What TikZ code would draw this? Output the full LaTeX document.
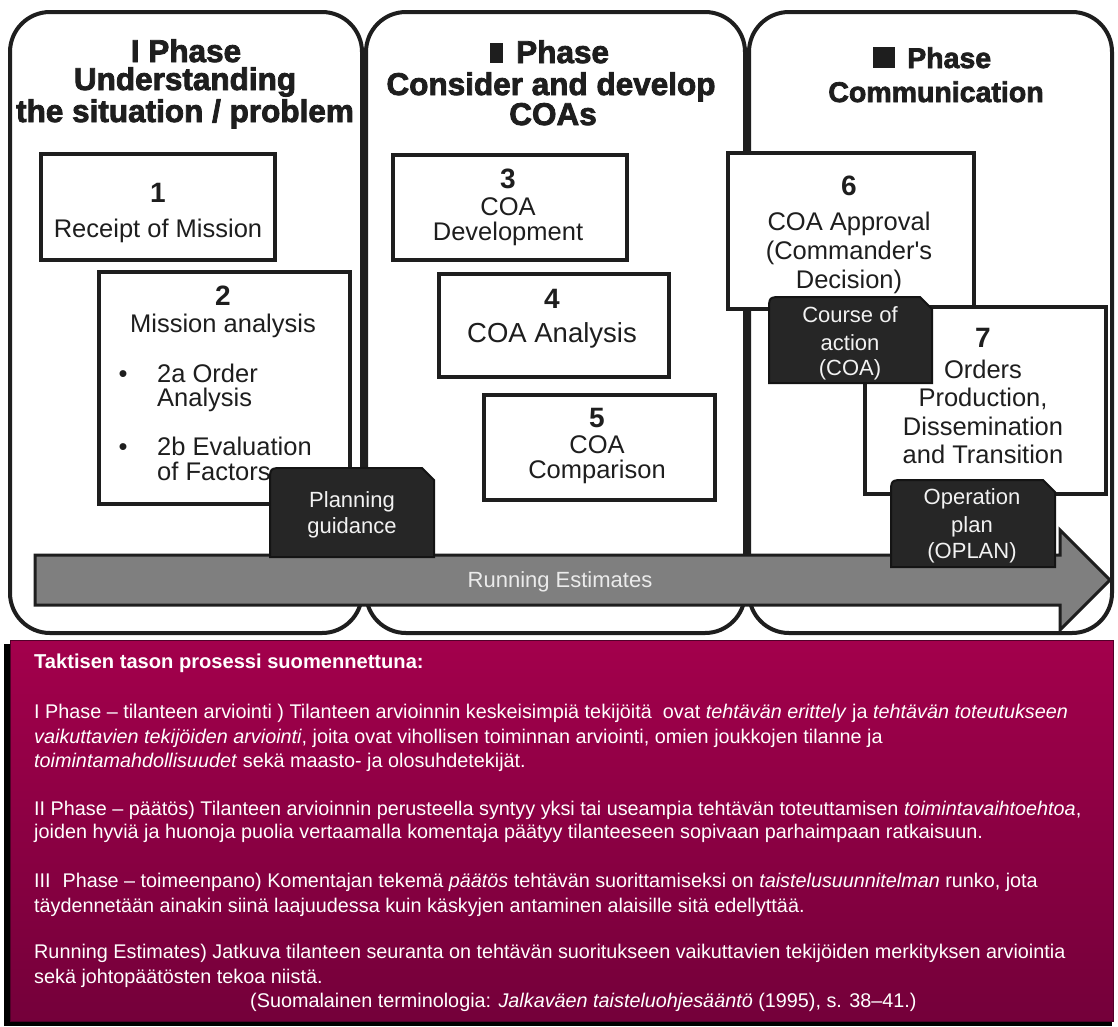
\documentclass[tikz,border=0pt]{standalone}
\usepackage{fontspec}
\setmainfont{Liberation Sans}
\newfontfamily\headfont[BoldFeatures={FakeBold=2.5}]{Liberation Sans}
\definecolor{ink}{HTML}{1E1E1E}
\definecolor{tagfill}{HTML}{262626}
\definecolor{tagedge}{HTML}{141414}
\definecolor{tagtext}{HTML}{F2F2F2}
\definecolor{arrowfill}{HTML}{7F7F7F}
\definecolor{plumtop}{HTML}{A3004C}
\definecolor{plumbot}{HTML}{74003A}
\begin{document}
\begin{tikzpicture}[x=1pt,y=-1pt,
  panel/.style={draw=ink,line width=4pt,rounded corners=40pt},
  stepbox/.style={draw=ink,line width=4pt,fill=white,inner sep=0,anchor=north west},
  tagshape/.style={fill=tagfill,draw=tagedge,line width=2pt},
  num/.style={font=\fontsize{28}{28}\selectfont\bfseries,anchor=base,text=ink,inner sep=0},
  lbl/.style={font=\fontsize{25.5}{25.5}\selectfont,anchor=base,text=ink,inner sep=0},
  lblw/.style={lbl,anchor=base west},
  head/.style={font=\headfont\bfseries\fontsize{31.5}{31.5}\selectfont,anchor=base,text=ink,inner sep=0},
  tagtxt/.style={font=\fontsize{22}{22}\selectfont,anchor=base,text=tagtext,inner sep=0},
  body/.style={font=\fontsize{19.8}{19.8}\selectfont,anchor=base west,text=white,inner sep=0},
]
\useasboundingbox (0,0) rectangle (1118,1026);
\fill[white] (0,0) rectangle (1118,1026);

% the three phase panels
\draw[panel] (10,12) rectangle (362,633);
\draw[panel] (366,12) rectangle (745,633);
\draw[panel] (749,12) rectangle (1112,633);

% phase headings
\node[head] (h1a) at (186,62) {I Phase};
\node[head] (h1b) at (185,90) {Understanding};
\node[head] (h1c) at (185,122) {the situation / problem};
\node[head,anchor=base west] (h2a) at (490,63) {\rule{13pt}{20pt}\hspace{13pt}Phase};
\node[head] (h2b) at (551,95) {Consider and develop};
\node[head] (h2c) at (553,125) {COAs};
\node[head,anchor=base west,font=\headfont\bfseries\fontsize{28.5}{28.5}\selectfont] (h3a) at (873,68) {\rule{22pt}{21pt}\hspace{12pt}Phase};
\node[head,font=\headfont\bfseries\fontsize{28.5}{28.5}\selectfont] (h3b) at (936,102) {Communication};

% process steps
\node[stepbox,minimum width=234pt,minimum height=106pt] (b1) at (39,152) {};
\node[num] (n1) at (158,202) {1};
\node[lbl] (t1) at (158,237) {Receipt of Mission};

\node[stepbox,minimum width=251pt,minimum height=232pt] (b2) at (97,270) {};
\node[num] (n2) at (223,305) {2};
\node[lbl] (t2) at (223,332) {Mission analysis};
\node[lbl] (d2a) at (123,382) {•};
\node[lblw] (t2a) at (157,382) {2a Order};
\node[lblw] (t2b) at (157,406) {Analysis};
\node[lbl] (d2b) at (123,455) {•};
\node[lblw] (t2c) at (157,455) {2b Evaluation};
\node[lblw] (t2d) at (157,480) {of Factors};

\node[stepbox,minimum width=234pt,minimum height=105pt] (b3) at (391,153) {};
\node[num] (n3) at (508,188) {3};
\node[lbl] (t3a) at (508,215) {COA};
\node[lbl] (t3b) at (508,240) {Development};

\node[stepbox,minimum width=230pt,minimum height=103pt] (b4) at (437,272) {};
\node[num] (n4) at (552,308) {4};
\node[lbl,font=\fontsize{27.5}{27.5}\selectfont] (t4) at (552,342) {COA Analysis};

\node[stepbox,minimum width=231pt,minimum height=105pt] (b5) at (482,393) {};
\node[num] (n5) at (597,427) {5};
\node[lbl] (t5a) at (597,453) {COA};
\node[lbl] (t5b) at (597,478) {Comparison};

\node[stepbox,minimum width=246pt,minimum height=156pt] (b6) at (726,151) {};
\node[num] (n6) at (849,195) {6};
\node[lbl] (t6a) at (849,230) {COA Approval};
\node[lbl] (t6b) at (849,259) {(Commander\textquotesingle s};
\node[lbl] (t6c) at (849,288) {Decision)};

\node[stepbox,minimum width=241pt,minimum height=187pt] (b7) at (863,305) {};
\node[num] (n7) at (983,347) {7};
\node[lbl] (t7a) at (983,378) {Orders};
\node[lbl] (t7b) at (983,406) {Production,};
\node[lbl] (t7c) at (983,435) {Dissemination};
\node[lbl] (t7d) at (983,463) {and Transition};

% running estimates arrow
\draw[fill=arrowfill,draw=ink,line width=3pt,line join=miter]
  (35,555) -- (1060,555) -- (1060,530) -- (1110,580) -- (1060,630) -- (1060,605) -- (35,605) -- cycle;
\node[tagtxt,text=white!92!black] (re) at (560,587) {Running Estimates};

% products: one rounded and one snipped top corner
\draw[tagshape] (270,557) -- (270,482) .. controls (270,468) .. (284,468) -- (422,468) -- (434,480) -- (434,557) -- cycle;
\node[tagtxt] (pg1) at (352,507) {Planning};
\node[tagtxt] (pg2) at (352,533) {guidance};

\draw[tagshape] (769,383) -- (769,311) .. controls (769,297) .. (783,297) -- (920,297) -- (932,309) -- (932,383) -- cycle;
\node[tagtxt] (ca1) at (850,322) {Course of};
\node[tagtxt] (ca2) at (850,350) {action};
\node[tagtxt] (ca3) at (850,375) {(COA)};

\draw[tagshape] (891,567) -- (891,494) .. controls (891,480) .. (905,480) -- (1043,480) -- (1055,492) -- (1055,567) -- cycle;
\node[tagtxt] (op1) at (972,504) {Operation};
\node[tagtxt] (op2) at (972,532) {plan};
\node[tagtxt] (op3) at (972,558) {(OPLAN)};

% Finnish notes panel
\fill[black] (4,644) rectangle (1112,1026);
\node[anchor=north west,minimum width=1103pt,minimum height=381pt,inner sep=0,
      top color=plumtop,bottom color=plumbot,draw=plumbot!70!black,line width=1pt] (notes) at (10,640) {};
\node[body,font=\fontsize{20.1}{20.1}\selectfont\bfseries] (ttl) at (34,668) {Taktisen tason prosessi suomennettuna:};
\node[body] (l1) at (34,718) {I Phase – tilanteen arviointi ) Tilanteen arvioinnin keskeisimpiä tekijöitä \ ovat \textit{tehtävän erittely} ja \textit{tehtävän toteutukseen}};
\node[body] (l2) at (34,743) {\textit{vaikuttavien tekijöiden arviointi}, joita ovat vihollisen toiminnan arviointi, omien joukkojen tilanne ja};
\node[body] (l3) at (34,767) {\textit{toimintamahdollisuudet} sekä maasto- ja olosuhdetekijät.};
\node[body] (l4) at (34,815) {II Phase – päätös) Tilanteen arvioinnin perusteella syntyy yksi tai useampia tehtävän toteuttamisen \textit{toimintavaihtoehtoa},};
\node[body] (l5) at (34,838) {joiden hyviä ja huonoja puolia vertaamalla komentaja päätyy tilanteeseen sopivaan parhaimpaan ratkaisuun.};
\node[body] (l6) at (34,887) {III\hspace{0.6em}Phase – toimeenpano) Komentajan tekemä \textit{päätös} tehtävän suorittamiseksi on \textit{taistelusuunnitelman} runko, jota};
\node[body] (l7) at (34,912) {täydennetään ainakin siinä laajuudessa kuin käskyjen antaminen alaisille sitä edellyttää.};
\node[body] (l8) at (34,958) {Running Estimates) Jatkuva tilanteen seuranta on tehtävän suoritukseen vaikuttavien tekijöiden merkityksen arviointia};
\node[body] (l9) at (34,983) {sekä johtopäätösten tekoa niistä.};
\node[body] (l10) at (250,1007) {(Suomalainen terminologia: \textit{Jalkaväen taisteluohjesääntö} (1995), s. 38–41.)};
\end{tikzpicture}
\end{document}
